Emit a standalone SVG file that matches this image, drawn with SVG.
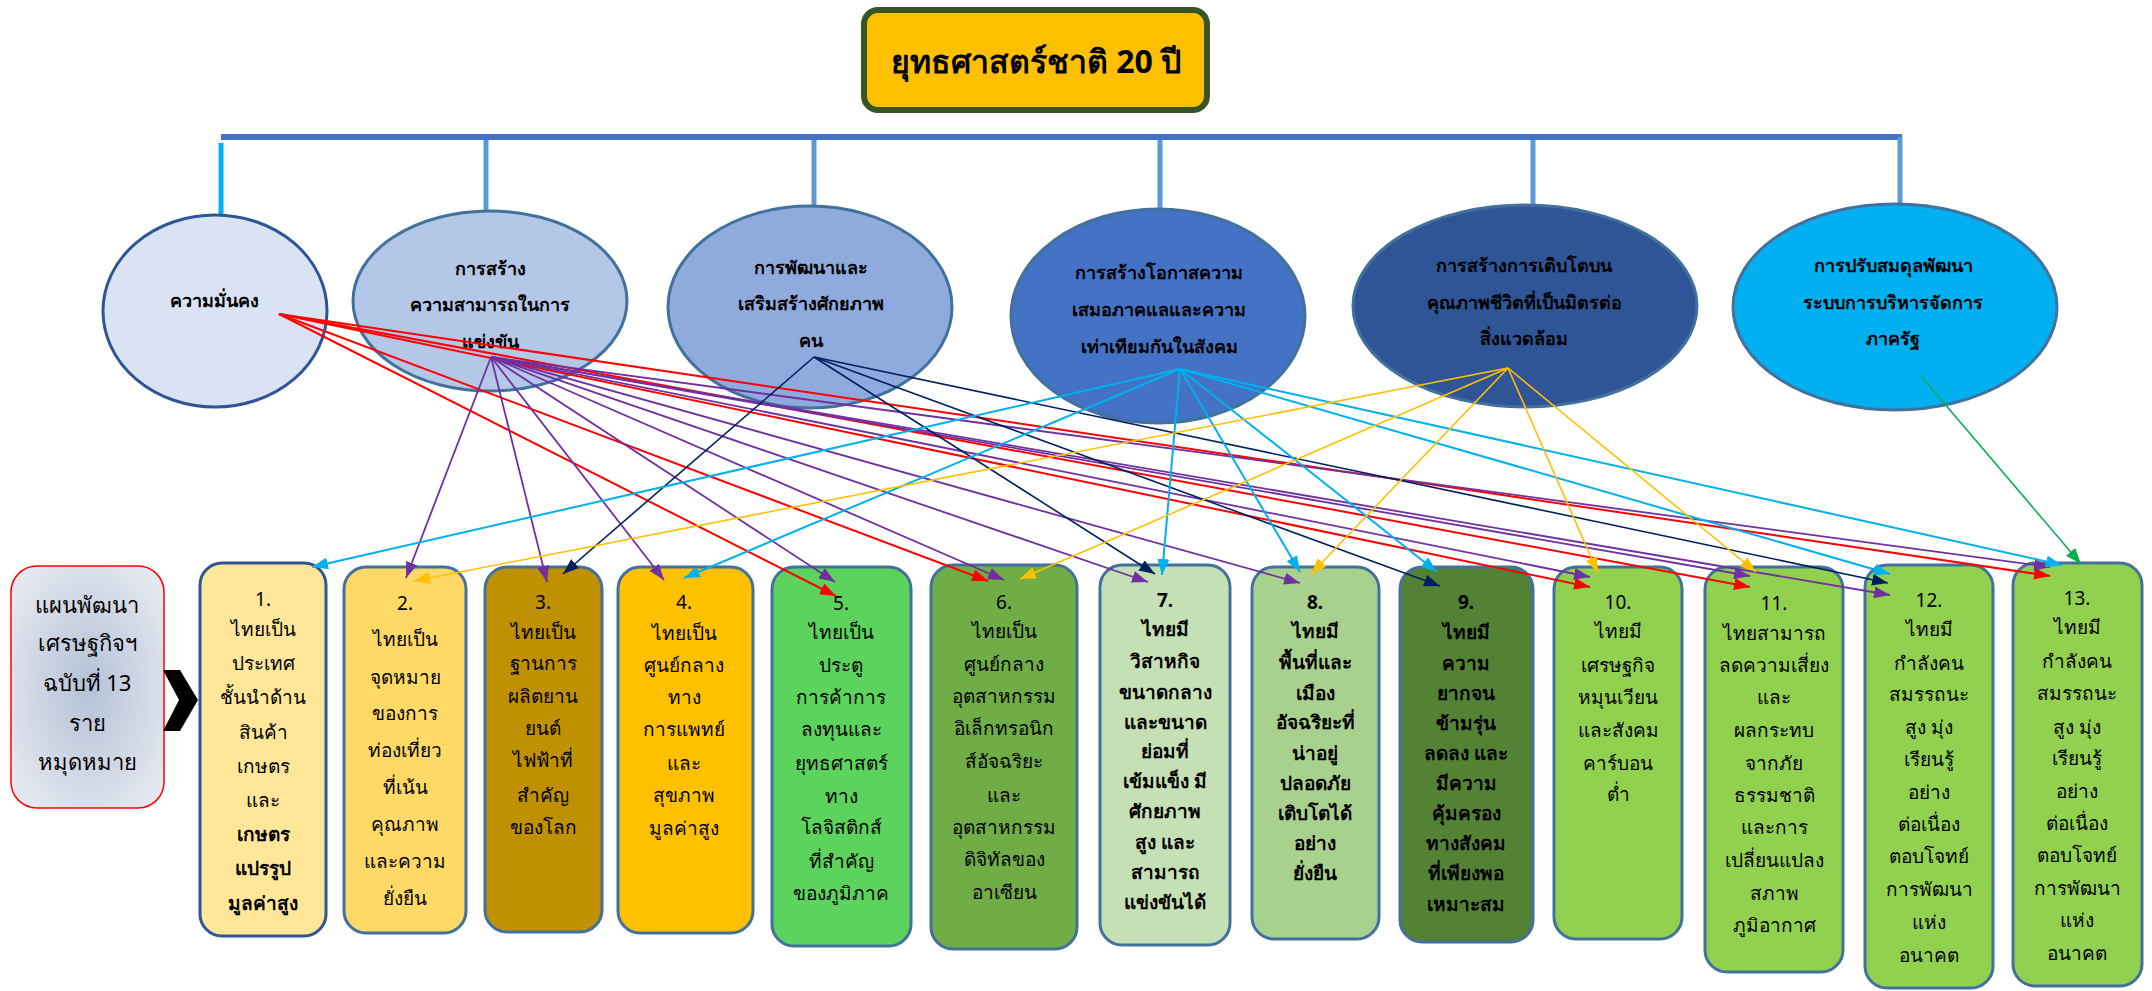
<svg xmlns="http://www.w3.org/2000/svg" width="2152" height="991" viewBox="0 0 2152 991">
<style>
text{font-family:"Noto Sans","DejaVu Sans",sans-serif;text-anchor:middle;fill:#000}
.t{font-size:32px;font-weight:bold}
.e{font-size:18px;font-weight:bold}
.l{font-size:22px}
.b{font-size:19px}
.bb{font-size:19px;font-weight:bold}
.box{stroke:#41719C;stroke-width:3}
.ell{stroke:#41719C;stroke-width:3}
.drop{stroke:#5B9BD5;stroke-width:5}
.cr{stroke:#FF0000;stroke-width:2;marker-end:url(#mr)}
.cp{stroke:#7030A0;stroke-width:1.8;marker-end:url(#mp)}
.cn{stroke:#002060;stroke-width:1.6;marker-end:url(#mn)}
.cc{stroke:#00B0F0;stroke-width:2;marker-end:url(#mc)}
.co{stroke:#FFC000;stroke-width:1.6;marker-end:url(#mo)}
.cg{stroke:#00B050;stroke-width:1.5;marker-end:url(#mg)}
</style>
<defs>
<marker id="mr" markerUnits="userSpaceOnUse" markerWidth="16" markerHeight="12" refX="16" refY="6" orient="auto"><path d="M0,0 L16,6 L0,12 z" fill="#FF0000"/></marker>
<marker id="mp" markerUnits="userSpaceOnUse" markerWidth="16" markerHeight="12" refX="16" refY="6" orient="auto"><path d="M0,0 L16,6 L0,12 z" fill="#7030A0"/></marker>
<marker id="mn" markerUnits="userSpaceOnUse" markerWidth="16" markerHeight="12" refX="16" refY="6" orient="auto"><path d="M0,0 L16,6 L0,12 z" fill="#002060"/></marker>
<marker id="mc" markerUnits="userSpaceOnUse" markerWidth="16" markerHeight="12" refX="16" refY="6" orient="auto"><path d="M0,0 L16,6 L0,12 z" fill="#00B0F0"/></marker>
<marker id="mo" markerUnits="userSpaceOnUse" markerWidth="16" markerHeight="12" refX="16" refY="6" orient="auto"><path d="M0,0 L16,6 L0,12 z" fill="#FFC000"/></marker>
<marker id="mg" markerUnits="userSpaceOnUse" markerWidth="16" markerHeight="12" refX="16" refY="6" orient="auto"><path d="M0,0 L16,6 L0,12 z" fill="#00B050"/></marker>
<radialGradient id="lg" cx="0.5" cy="0.5" r="0.6">
<stop offset="0" stop-color="#B4C1D6"/>
<stop offset="1" stop-color="#E3E7EF"/>
</radialGradient>
</defs>
<rect width="2152" height="991" fill="#FFFFFF"/>

<g id="title">
<rect x="864" y="10" width="343" height="100" rx="14" fill="#FFC000" stroke="#375623" stroke-width="6"/>
<text class="t" x="1036" y="73">ยุทธศาสตร์ชาติ 20 ปี</text>
</g>

<g id="tree">
<line x1="221" y1="137" x2="1902" y2="137" stroke="#4472C4" stroke-width="6"/>
<line x1="221" y1="143" x2="221" y2="214" stroke="#00B0F0" stroke-width="5"/>
<line class="drop" x1="486" y1="140" x2="486" y2="210"/>
<line class="drop" x1="814" y1="140" x2="814" y2="208"/>
<line class="drop" x1="1160" y1="140" x2="1160" y2="211"/>
<line class="drop" x1="1533" y1="140" x2="1533" y2="206"/>
<line class="drop" x1="1900" y1="137" x2="1900" y2="206"/>
</g>

<g id="e1"><ellipse cx="215" cy="311" rx="112" ry="96" fill="#DAE3F3" stroke="#2F5597" stroke-width="3"/>
<text class="e" x="214" y="307">ความมั่นคง</text></g>
<g id="e2"><ellipse class="ell" cx="490" cy="301" rx="137" ry="90" fill="#B4C7E7"/>
<text class="e" x="490" y="275">การสร้าง</text><text class="e" x="490" y="311">ความสามารถในการ</text><text class="e" x="490" y="348">แข่งขัน</text></g>
<g id="e3"><ellipse class="ell" cx="810" cy="307" rx="142" ry="101" fill="#8FAADC"/>
<text class="e" x="811" y="274">การพัฒนาและ</text><text class="e" x="811" y="310">เสริมสร้างศักยภาพ</text><text class="e" x="811" y="347">คน</text></g>
<g id="e4"><ellipse class="ell" cx="1158" cy="316" rx="147" ry="107" fill="#4472C4"/>
<text class="e" x="1159" y="279">การสร้างโอกาสความ</text><text class="e" x="1159" y="316">เสมอภาคแลและความ</text><text class="e" x="1159" y="353">เท่าเทียมกันในสังคม</text></g>
<g id="e5"><ellipse class="ell" cx="1525" cy="306" rx="172" ry="101" fill="#2F5597"/>
<text class="e" x="1524" y="272">การสร้างการเติบโตบน</text><text class="e" x="1524" y="309">คุณภาพชีวิตที่เป็นมิตรต่อ</text><text class="e" x="1524" y="345">สิ่งแวดล้อม</text></g>
<g id="e6"><ellipse class="ell" cx="1895" cy="307" rx="162" ry="103" fill="#00B0F0"/>
<text class="e" x="1893" y="272">การปรับสมดุลพัฒนา</text><text class="e" x="1893" y="309">ระบบการบริหารจัดการ</text><text class="e" x="1893" y="345">ภาครัฐ</text></g>

<g id="plan">
<rect x="11" y="566" width="153" height="242" rx="26" fill="url(#lg)" stroke="#FF0000" stroke-width="1.5"/>
<text class="l" x="87" y="613">แผนพัฒนา</text>
<text class="l" x="87" y="651">เศรษฐกิจฯ</text>
<text class="l" x="87" y="691">ฉบับที่ 13</text>
<text class="l" x="87" y="731">ราย</text>
<text class="l" x="87" y="770">หมุดหมาย</text>
</g>
<g id="chevron"><polygon points="163,670 180,670 198,700 180,731 163,731 179,700" fill="#000"/></g>

<g id="b1"><rect x="200" y="563" width="126" height="373" rx="22" fill="#FFE699" stroke="#2F5597" stroke-width="3"/>
<text class="b" x="263" y="606">1.</text><text class="b" x="263" y="636">ไทยเป็น</text><text class="b" x="263" y="670">ประเทศ</text><text class="b" x="263" y="704">ชั้นนำด้าน</text><text class="b" x="263" y="739">สินค้า</text><text class="b" x="263" y="773">เกษตร</text><text class="b" x="263" y="807">และ</text><text class="bb" x="263" y="841">เกษตร</text><text class="bb" x="263" y="875">แปรรูป</text><text class="bb" x="263" y="910">มูลค่าสูง</text></g>
<g id="b2"><rect class="box" x="344" y="567" width="122" height="366" rx="22" fill="#FFD966"/>
<text class="b" x="405" y="610">2.</text><text class="b" x="405" y="646">ไทยเป็น</text><text class="b" x="405" y="684">จุดหมาย</text><text class="b" x="405" y="720">ของการ</text><text class="b" x="405" y="757">ท่องเที่ยว</text><text class="b" x="405" y="794">ที่เน้น</text><text class="b" x="405" y="831">คุณภาพ</text><text class="b" x="405" y="868">และความ</text><text class="b" x="405" y="905">ยั่งยืน</text></g>
<g id="b3"><rect class="box" x="485" y="567" width="117" height="365" rx="22" fill="#BF9000"/>
<text class="b" x="543" y="609">3.</text><text class="b" x="543" y="639">ไทยเป็น</text><text class="b" x="543" y="670">ฐานการ</text><text class="b" x="543" y="703">ผลิตยาน</text><text class="b" x="543" y="735">ยนต์</text><text class="b" x="543" y="767">ไฟฟ้าที่</text><text class="b" x="543" y="802">สำคัญ</text><text class="b" x="543" y="834">ของโลก</text></g>
<g id="b4"><rect class="box" x="618" y="567" width="135" height="366" rx="22" fill="#FFC000"/>
<text class="b" x="684" y="609">4.</text><text class="b" x="684" y="640">ไทยเป็น</text><text class="b" x="684" y="672">ศูนย์กลาง</text><text class="b" x="684" y="704">ทาง</text><text class="b" x="684" y="736">การแพทย์</text><text class="b" x="684" y="770">และ</text><text class="b" x="684" y="802">สุขภาพ</text><text class="b" x="684" y="835">มูลค่าสูง</text></g>
<g id="b5"><rect class="box" x="772" y="567" width="139" height="379" rx="22" fill="#5CD35C"/>
<text class="b" x="841" y="610">5.</text><text class="b" x="841" y="639">ไทยเป็น</text><text class="b" x="841" y="672">ประตู</text><text class="b" x="841" y="704">การค้าการ</text><text class="b" x="841" y="736">ลงทุนและ</text><text class="b" x="841" y="770">ยุทธศาสตร์</text><text class="b" x="841" y="803">ทาง</text><text class="b" x="841" y="834">โลจิสติกส์</text><text class="b" x="841" y="868">ที่สำคัญ</text><text class="b" x="841" y="900">ของภูมิภาค</text></g>
<g id="b6"><rect class="box" x="931" y="565" width="146" height="384" rx="22" fill="#70AD47"/>
<text class="b" x="1004" y="609">6.</text><text class="b" x="1004" y="638">ไทยเป็น</text><text class="b" x="1004" y="671">ศูนย์กลาง</text><text class="b" x="1004" y="703">อุตสาหกรรม</text><text class="b" x="1004" y="735">อิเล็กทรอนิก</text><text class="b" x="1004" y="768">ส์อัจฉริยะ</text><text class="b" x="1004" y="802">และ</text><text class="b" x="1004" y="834">อุตสาหกรรม</text><text class="b" x="1004" y="866">ดิจิทัลของ</text><text class="b" x="1004" y="899">อาเซียน</text></g>
<g id="b7"><rect class="box" x="1100" y="565" width="130" height="380" rx="22" fill="#C5E0B4"/>
<text class="bb" x="1165" y="607">7.</text><text class="bb" x="1165" y="636">ไทยมี</text><text class="bb" x="1165" y="668">วิสาหกิจ</text><text class="bb" x="1165" y="699">ขนาดกลาง</text><text class="bb" x="1165" y="729">และขนาด</text><text class="bb" x="1165" y="758">ย่อมที่</text><text class="bb" x="1165" y="788">เข้มแข็ง มี</text><text class="bb" x="1165" y="818">ศักยภาพ</text><text class="bb" x="1165" y="849">สูง และ</text><text class="bb" x="1165" y="879">สามารถ</text><text class="bb" x="1165" y="909">แข่งขันได้</text></g>
<g id="b8"><rect class="box" x="1252" y="567" width="127" height="372" rx="22" fill="#A9D18E"/>
<text class="bb" x="1315" y="609">8.</text><text class="bb" x="1315" y="638">ไทยมี</text><text class="bb" x="1315" y="669">พื้นที่และ</text><text class="bb" x="1315" y="700">เมือง</text><text class="bb" x="1315" y="729">อัจฉริยะที่</text><text class="bb" x="1315" y="760">น่าอยู่</text><text class="bb" x="1315" y="790">ปลอดภัย</text><text class="bb" x="1315" y="820">เติบโตได้</text><text class="bb" x="1315" y="850">อย่าง</text><text class="bb" x="1315" y="880">ยั่งยืน</text></g>
<g id="b9"><rect class="box" x="1400" y="567" width="133" height="375" rx="22" fill="#548235"/>
<text class="bb" x="1466" y="609">9.</text><text class="bb" x="1466" y="639">ไทยมี</text><text class="bb" x="1466" y="670">ความ</text><text class="bb" x="1466" y="700">ยากจน</text><text class="bb" x="1466" y="730">ข้ามรุ่น</text><text class="bb" x="1466" y="760">ลดลง และ</text><text class="bb" x="1466" y="790">มีความ</text><text class="bb" x="1466" y="820">คุ้มครอง</text><text class="bb" x="1466" y="850">ทางสังคม</text><text class="bb" x="1466" y="880">ที่เพียงพอ</text><text class="bb" x="1466" y="911">เหมาะสม</text></g>
<g id="b10"><rect class="box" x="1554" y="567" width="128" height="372" rx="22" fill="#92D050"/>
<text class="b" x="1618" y="609">10.</text><text class="b" x="1618" y="638">ไทยมี</text><text class="b" x="1618" y="672">เศรษฐกิจ</text><text class="b" x="1618" y="704">หมุนเวียน</text><text class="b" x="1618" y="737">และสังคม</text><text class="b" x="1618" y="770">คาร์บอน</text><text class="b" x="1618" y="801">ต่ำ</text></g>
<g id="b11"><rect class="box" x="1705" y="567" width="138" height="405" rx="22" fill="#92D050"/>
<text class="b" x="1774" y="610">11.</text><text class="b" x="1774" y="640">ไทยสามารถ</text><text class="b" x="1774" y="672">ลดความเสี่ยง</text><text class="b" x="1774" y="704">และ</text><text class="b" x="1774" y="737">ผลกระทบ</text><text class="b" x="1774" y="770">จากภัย</text><text class="b" x="1774" y="802">ธรรมชาติ</text><text class="b" x="1774" y="834">และการ</text><text class="b" x="1774" y="867">เปลี่ยนแปลง</text><text class="b" x="1774" y="900">สภาพ</text><text class="b" x="1774" y="932">ภูมิอากาศ</text></g>
<g id="b12"><rect class="box" x="1865" y="565" width="128" height="423" rx="22" fill="#92D050"/>
<text class="b" x="1929" y="607">12.</text><text class="b" x="1929" y="636">ไทยมี</text><text class="b" x="1929" y="670">กำลังคน</text><text class="b" x="1929" y="701">สมรรถนะ</text><text class="b" x="1929" y="734">สูง มุ่ง</text><text class="b" x="1929" y="766">เรียนรู้</text><text class="b" x="1929" y="799">อย่าง</text><text class="b" x="1929" y="831">ต่อเนื่อง</text><text class="b" x="1929" y="863">ตอบโจทย์</text><text class="b" x="1929" y="896">การพัฒนา</text><text class="b" x="1929" y="929">แห่ง</text><text class="b" x="1929" y="962">อนาคต</text></g>
<g id="b13"><rect class="box" x="2013" y="563" width="129" height="423" rx="22" fill="#92D050"/>
<text class="b" x="2077" y="605">13.</text><text class="b" x="2077" y="634">ไทยมี</text><text class="b" x="2077" y="668">กำลังคน</text><text class="b" x="2077" y="700">สมรรถนะ</text><text class="b" x="2077" y="734">สูง มุ่ง</text><text class="b" x="2077" y="765">เรียนรู้</text><text class="b" x="2077" y="798">อย่าง</text><text class="b" x="2077" y="830">ต่อเนื่อง</text><text class="b" x="2077" y="862">ตอบโจทย์</text><text class="b" x="2077" y="895">การพัฒนา</text><text class="b" x="2077" y="927">แห่ง</text><text class="b" x="2077" y="960">อนาคต</text></g>

<g id="connectors" fill="none">
<line class="cr" x1="279" y1="314" x2="836" y2="596"/>
<line class="cr" x1="279" y1="314" x2="988" y2="581"/>
<line class="cr" x1="279" y1="314" x2="1590" y2="587"/>
<line class="cr" x1="279" y1="314" x2="1750" y2="587"/>
<line class="cr" x1="279" y1="314" x2="2050" y2="576"/>
<line class="cp" x1="491" y1="357" x2="406" y2="578"/>
<line class="cp" x1="491" y1="357" x2="547" y2="582"/>
<line class="cp" x1="491" y1="357" x2="664" y2="580"/>
<line class="cp" x1="491" y1="357" x2="835" y2="582"/>
<line class="cp" x1="491" y1="357" x2="1004" y2="580"/>
<line class="cp" x1="491" y1="357" x2="1148" y2="582"/>
<line class="cp" x1="491" y1="357" x2="1300" y2="583"/>
<line class="cp" x1="491" y1="357" x2="1590" y2="577"/>
<line class="cp" x1="491" y1="357" x2="1750" y2="576"/>
<line class="cp" x1="491" y1="357" x2="1890" y2="595"/>
<line class="cp" x1="491" y1="357" x2="2050" y2="567"/>
<line class="cn" x1="814" y1="357" x2="563" y2="574"/>
<line class="cn" x1="814" y1="357" x2="1155" y2="574"/>
<line class="cn" x1="814" y1="357" x2="1440" y2="586"/>
<line class="cn" x1="814" y1="357" x2="1888" y2="583"/>
<line class="cc" x1="1180" y1="369" x2="312" y2="567"/>
<line class="cc" x1="1180" y1="369" x2="684" y2="578"/>
<line class="cc" x1="1180" y1="369" x2="1162" y2="575"/>
<line class="cc" x1="1180" y1="369" x2="1300" y2="572"/>
<line class="cc" x1="1180" y1="369" x2="1437" y2="572"/>
<line class="cc" x1="1180" y1="369" x2="1890" y2="574"/>
<line class="cc" x1="1180" y1="369" x2="2062" y2="565"/>
<line class="co" x1="1508" y1="368" x2="414" y2="581"/>
<line class="co" x1="1508" y1="368" x2="1020" y2="579"/>
<line class="co" x1="1508" y1="368" x2="1311" y2="574"/>
<line class="co" x1="1508" y1="368" x2="1598" y2="573"/>
<line class="co" x1="1508" y1="368" x2="1756" y2="572"/>
<line class="cg" x1="1921" y1="376" x2="2081" y2="564"/>
</g>
</svg>
